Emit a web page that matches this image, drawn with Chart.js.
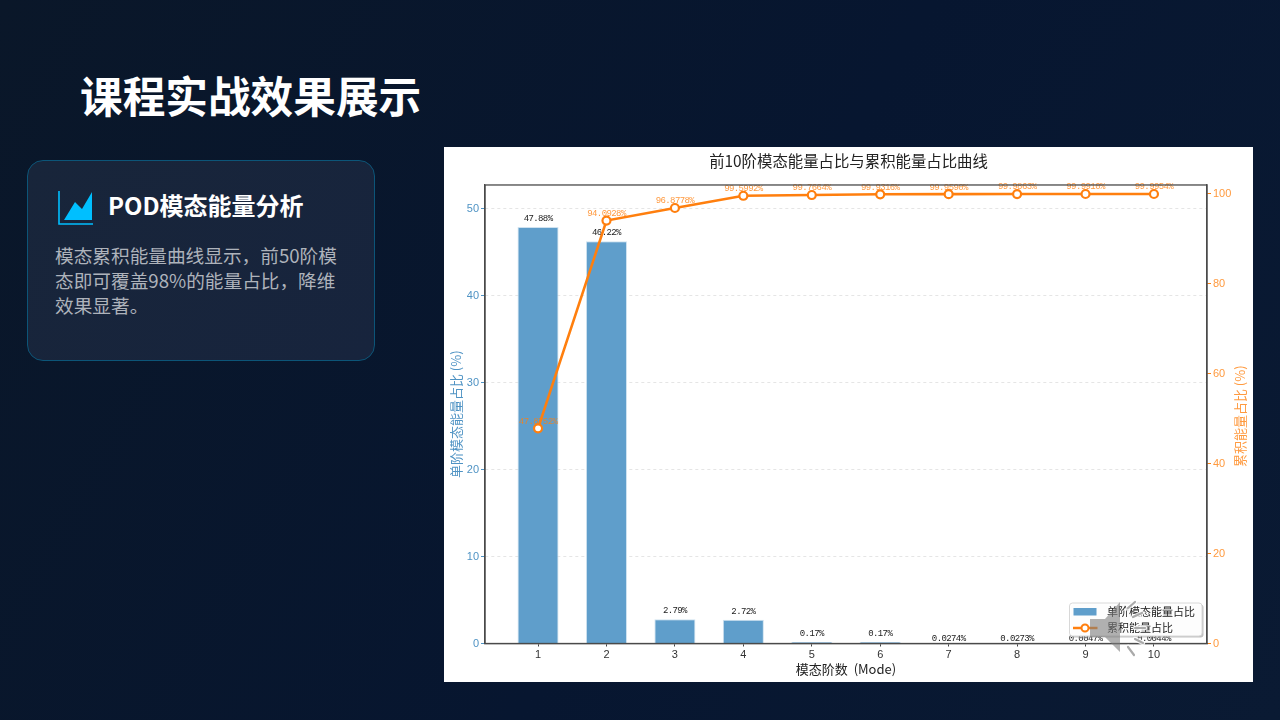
<!DOCTYPE html>
<html lang="zh">
<head>
<meta charset="utf-8">
<title>课程实战效果展示</title>
<script src="https://cdn.jsdelivr.net/npm/chart.js@4"></script>
<style>
    html, body { margin: 0; padding: 0; }
    body {
        width: 1280px;
        height: 720px;
        overflow: hidden;
        position: relative;
        background: linear-gradient(120deg, #0a1729 0%, #071630 55%, #0a1a33 100%);
        font-family: "Noto Sans CJK SC", "Noto Sans", sans-serif;
    }
    h1 {
        position: absolute;
        left: 80px;
        top: 64px;
        margin: 0;
        font-size: 42.67px;
        line-height: 62px;
        font-weight: 700;
        color: #fff;
    }
    .card {
        position: absolute;
        left: 27px;
        top: 160px;
        width: 346px;
        height: 199px;
        border: 1px solid #0c5578;
        border-radius: 16px;
        background: linear-gradient(135deg, #18253a, #17243d);
    }
    .card svg { position: absolute; left: 30px; top: 29px; }
    .card h2 {
        position: absolute;
        left: 80px;
        top: 26px;
        margin: 0;
        font-size: 24px;
        line-height: 36px;
        font-weight: 700;
        color: #fff;
        white-space: nowrap;
    }
    .card p {
        position: absolute;
        left: 27px;
        top: 81px;
        margin: 0;
        font-size: 18.67px;
        line-height: 25.2px;
        color: #aeb3bb;
        white-space: nowrap;
    }
    .panel {
        position: absolute;
        left: 444px;
        top: 147px;
        width: 809px;
        height: 535px;
        background: #fff;
    }
    .panel canvas { display: block; filter: blur(0.5px); }
    .speaker { position: absolute; left: 1080px; top: 595px; z-index: 5; filter: blur(0.4px); }
</style>
</head>
<body>
<h1>课程实战效果展示</h1>
<div class="card">
    <svg width="36" height="36" viewBox="0 0 36 36">
        <path d="M1 1V34H35" fill="none" stroke="#00bfff" stroke-width="1.6"/>
        <path d="M6 30L17 12L24 19L34 2V30Z" fill="#00bfff"/>
    </svg>
    <h2>POD模态能量分析</h2>
    <p>模态累积能量曲线显示，前50阶模<br>态即可覆盖98%的能量占比，降维<br>效果显著。</p>
</div>
<div class="panel"><canvas id="chart" width="809" height="535"></canvas></div>
<svg class="speaker" width="75" height="70" viewBox="0 0 75 70">
    <path d="M10 24H25L40 7V57L25 42H10Z" fill="rgba(125,125,125,0.6)"/>
    <g fill="none" stroke-linecap="round">
        <g stroke="#fff" stroke-width="4.5" opacity="0.85">
            <path d="M48 13L55 7M53 22L62 18M55 33H65M55 44L63 48M48 52L54 60"/>
        </g>
        <g stroke="#aaa" stroke-width="2.2">
            <path d="M48 13L55 7M53 22L62 18M55 33H65M55 44L63 48M48 52L54 60"/>
        </g>
    </g>
</svg>
<script>
const modes = [1, 2, 3, 4, 5, 6, 7, 8, 9, 10];
const singleEnergy = [47.88, 46.22, 2.79, 2.72, 0.17, 0.17, 0.0274, 0.0273, 0.0047, 0.0044];
const cumulativeEnergy = [47.8752, 94.0928, 96.8778, 99.5992, 99.7664, 99.9316, 99.9590, 99.9863, 99.9910, 99.9954];
const singleLabel = "单阶模态能量占比";
const cumulativeLabel = "累积能量占比";

const BLUE = "#4f93c4";
const ORANGE = "#ff7f0e";
const LIGHT_ORANGE = "#ff9a3f";
const CJK = "'Noto Sans CJK SC', sans-serif";
const TICK_FONT = { family: "'Liberation Sans', sans-serif", size: 11 };

// value labels go between the bars and the line, the line crosses over them
const valueLabels = {
    id: "valueLabels",
    afterDatasetDraw(chart, args) {
        if (args.index !== 0) return;
        const { ctx } = chart;
        ctx.save();
        ctx.font = "9px 'Liberation Mono', monospace";
        ctx.letterSpacing = "-0.6px";
        ctx.textAlign = "center";
        ctx.textBaseline = "middle";

        ctx.fillStyle = "#222";
        chart.getDatasetMeta(0).data.forEach((bar, i) => {
            const v = singleEnergy[i];
            const text = v < 0.1 ? v.toFixed(4) + "%" : v.toFixed(2) + "%";
            ctx.fillText(text, bar.x, bar.y - (v < 0.1 ? 5 : 8.5));
        });

        ctx.fillStyle = "rgba(255,127,14,0.8)";
        chart.getDatasetMeta(1).data.forEach((pt, i) => {
            ctx.fillText(cumulativeEnergy[i].toFixed(4) + "%", pt.x, pt.y - 7);
        });
        ctx.restore();
    },
};

// top and right spines, right axis title, matplotlib style legend box
const frameAndLegend = {
    id: "frameAndLegend",
    afterDraw(chart) {
        const { ctx, chartArea: a } = chart;
        ctx.save();
        ctx.strokeStyle = "#4a4a4a";
        ctx.lineWidth = 1.3;
        ctx.strokeRect(a.left, a.top, a.right - a.left, a.bottom - a.top);

        // Chart.js turns a right axis title the other way round
        ctx.save();
        ctx.translate(chart.width - 13, (a.top + a.bottom) / 2 + 2);
        ctx.rotate(-Math.PI / 2);
        ctx.fillStyle = LIGHT_ORANGE;
        ctx.font = "13px " + CJK;
        ctx.textAlign = "center";
        ctx.textBaseline = "middle";
        ctx.fillText(cumulativeLabel + " (%)", 0, 0);
        ctx.restore();

        const x = 625.5, y = 456, w = 132.5, h = 33;
        ctx.fillStyle = "rgba(120,120,120,0.45)";
        ctx.beginPath();
        ctx.roundRect(x + 1.5, y + 1.5, w, h, 3);
        ctx.fill();
        ctx.fillStyle = "rgba(255,255,255,0.96)";
        ctx.strokeStyle = "#d8d8d8";
        ctx.lineWidth = 1;
        ctx.beginPath();
        ctx.roundRect(x, y, w, h, 3);
        ctx.fill();
        ctx.stroke();

        ctx.fillStyle = "#5f9ecb";
        ctx.fillRect(x + 4, y + 5, 23, 7.5);
        ctx.strokeStyle = ORANGE;
        ctx.lineWidth = 2.5;
        ctx.beginPath();
        ctx.moveTo(x + 3.5, y + 25);
        ctx.lineTo(x + 28, y + 25);
        ctx.stroke();
        ctx.fillStyle = "#fff";
        ctx.lineWidth = 2;
        ctx.beginPath();
        ctx.arc(x + 15.5, y + 25, 3.5, 0, 2 * Math.PI);
        ctx.fill();
        ctx.stroke();

        ctx.fillStyle = "#222";
        ctx.font = "11px " + CJK;
        ctx.textBaseline = "middle";
        ctx.fillText(singleLabel, x + 37.5, y + 9);
        ctx.fillText(cumulativeLabel, x + 37.5, y + 25);
        ctx.restore();
    },
};

new Chart(document.getElementById("chart"), {
    data: {
        datasets: [
            {
                type: "bar",
                label: singleLabel,
                data: modes.map((m, i) => ({ x: m, y: singleEnergy[i] })),
                backgroundColor: "#5f9ecb",
                borderColor: "#cfe2f0",
                borderWidth: 1,
                barPercentage: 0.6,
                categoryPercentage: 1,
                yAxisID: "y",
                order: 2,
            },
            {
                type: "line",
                label: cumulativeLabel,
                data: modes.map((m, i) => ({ x: m, y: cumulativeEnergy[i] })),
                borderColor: ORANGE,
                borderWidth: 2.6,
                pointRadius: 4,
                pointBorderWidth: 2.2,
                pointBackgroundColor: "#fff",
                pointBorderColor: ORANGE,
                tension: 0,
                yAxisID: "y1",
                order: 1,
            },
        ],
    },
    options: {
        responsive: false,
        animation: false,
        plugins: {
            legend: { display: false },
            tooltip: { enabled: false },
            title: {
                display: true,
                text: "前10阶模态能量占比与累积能量占比曲线",
                color: "#222",
                font: { family: CJK, size: 15.4, weight: "normal", lineHeight: 1.2 },
                padding: { top: 4.5, bottom: 15 },
            },
        },
        scales: {
            x: {
                type: "linear",
                min: 0.225,
                max: 10.775,
                offset: false,
                afterFit(scale) {
                    scale.height = 38.5;
                },
                grid: { offset: false, drawOnChartArea: false, tickLength: 3, tickColor: "#444" },
                border: { color: "#4a4a4a", width: 1.3 },
                ticks: { stepSize: 1, includeBounds: false, color: "#333", font: TICK_FONT, padding: 2, maxRotation: 0 },
                title: {
                    display: true,
                    text: "模态阶数  (Mode)",
                    color: "#222",
                    font: { family: CJK, size: 13 },
                    padding: { top: 0, bottom: 5 },
                },
            },
            y: {
                position: "left",
                min: 0,
                max: 52.7,
                afterFit(scale) {
                    scale.width = 41;
                },
                grid: {
                    color: "rgba(150,150,150,0.25)",
                    tickColor: BLUE,
                    tickLength: 4,
                },
                border: { color: "#4a4a4a", width: 1.3, dash: [3, 3] },
                ticks: { stepSize: 10, includeBounds: false, color: BLUE, font: TICK_FONT, padding: 2 },
                title: {
                    display: true,
                    text: singleLabel + " (%)",
                    color: BLUE,
                    font: { family: CJK, size: 13 },
                    padding: { top: 4, bottom: 0 },
                },
            },
            y1: {
                position: "right",
                min: 0,
                max: 102,
                afterFit(scale) {
                    scale.width = 46;
                },
                grid: { drawOnChartArea: false, tickColor: ORANGE, tickLength: 4 },
                border: { color: "#4a4a4a", width: 1.3 },
                ticks: { stepSize: 20, includeBounds: false, color: LIGHT_ORANGE, font: TICK_FONT, padding: 2 },
            },
        },
    },
    plugins: [valueLabels, frameAndLegend],
});
</script>
</body>
</html>
